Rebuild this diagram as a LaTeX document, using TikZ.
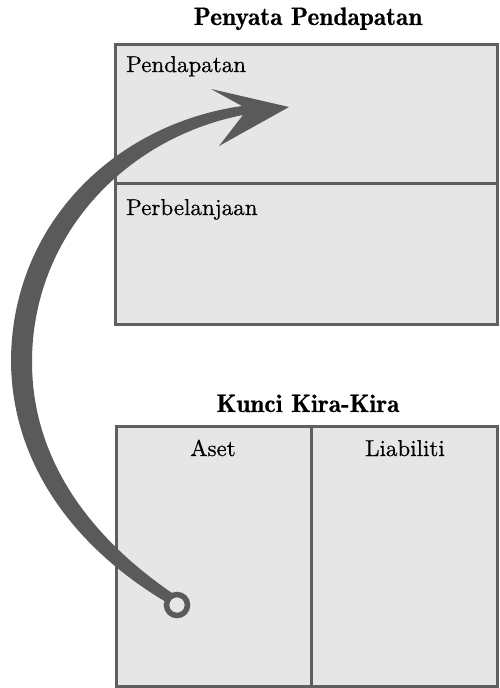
\documentclass[tikz,border=0pt]{standalone}
\usepackage{fontspec}
\newfontfamily\labelfont{lmroman10-regular}[Extension=.otf, FakeBold=0.6]
\newfontfamily\headfont{lmromandemi10-regular}[Extension=.otf, FakeBold=0.5]
\definecolor{boxfill}{HTML}{E6E6E6}
\definecolor{boxline}{HTML}{5F5F5F}
\definecolor{arrowgrey}{HTML}{5A5A5A}
\tikzset{
  panel/.style={draw=boxline, fill=boxfill, line width=3pt},
  rule/.style={draw=boxline, line width=3pt},
  heading/.style={inner sep=0pt, anchor=base, font=\headfont\fontsize{25.3}{28}\selectfont},
  label/.style={inner sep=0pt, font=\labelfont\fontsize{23}{26}\selectfont},
}
\begin{document}
\begin{tikzpicture}[x=1pt, y=-1pt]
\useasboundingbox (0,0) rectangle (499,688);

% Income statement panel
\path[panel] (115,44) rectangle (497.5,324);
\draw[rule] (115,183) -- (497.5,183);
\node[heading] (is) at (308,25) {Penyata Pendapatan};
\node[label, anchor=base west] (rev) at (126,72) {Pendapatan};
\node[label, anchor=base west] (exp) at (126,215) {Perbelanjaan};

% Balance sheet panel
\path[panel] (116,426) rectangle (497.5,686.5);
\draw[rule] (311,426) -- (311,686.5);
\node[heading] (bs) at (308,412) {Kunci Kira-Kira};
\node[label, anchor=base] (asset) at (213,456) {Aset};
\node[label, anchor=base] (liab) at (405,456) {Liabiliti};

% Curved fat arrow from assets to revenue
\coordinate (src) at (177,605);
\coordinate (tip) at (289,107);
\fill[arrowgrey]
  (166,602) .. controls (72,546) and (12,462) .. (11,362)
  .. controls (11,224) and (115,124) .. (242,106)
  -- (211,89) -- (tip) -- (219,146) -- (243,115)
  .. controls (125,138) and (32,236) .. (32,362)
  .. controls (32,456) and (86,534) .. (172,593) -- cycle;
\draw[arrowgrey, line width=5.5pt, fill=boxfill] (src) circle (10.5);
\end{tikzpicture}
\end{document}
